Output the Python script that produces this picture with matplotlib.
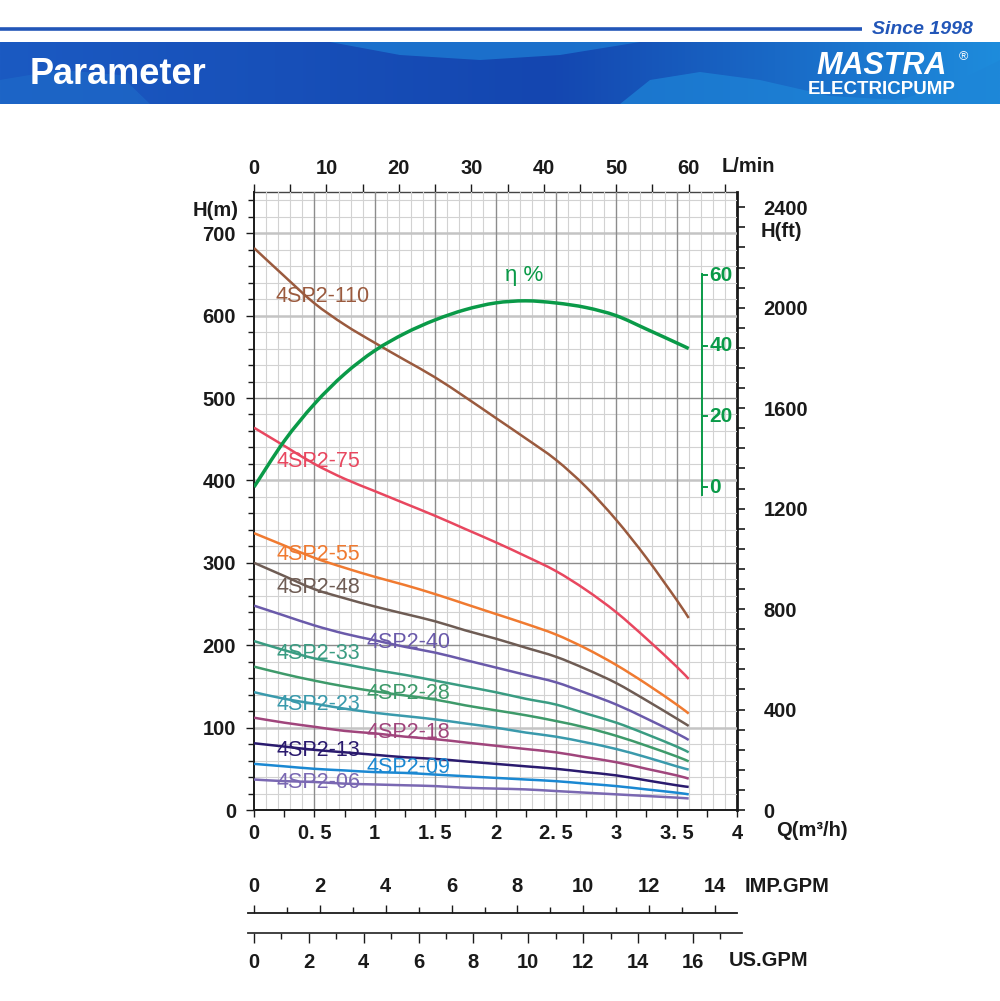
import numpy as np
import matplotlib
matplotlib.use('Agg')
import matplotlib.pyplot as plt
from matplotlib.ticker import MultipleLocator, FixedLocator
from matplotlib.patches import Polygon, PathPatch
from matplotlib.path import Path

plt.rcParams['font.family'] = ['Liberation Sans', 'DejaVu Sans']

# ---------------- data ----------------
flow_q = [0, 0.25, 0.5, 0.75, 1.0, 1.25, 1.5, 1.75, 2.0, 2.25, 2.5, 2.75, 3.0, 3.25, 3.5, 3.6]

head_110 = [682, 648, 615, 589, 567, 546, 525, 501, 476, 451, 425, 392, 352, 306, 255, 233]
head_75 = [464, 442, 420, 402, 387, 372, 357, 341, 325, 308, 290, 267, 240, 208, 174, 159]
head_55 = [336, 321, 306, 294, 283, 273, 262, 250, 238, 226, 213, 196, 176, 153, 128, 117]
head_48 = [300, 284, 268, 257, 247, 238, 229, 218, 208, 197, 186, 171, 154, 133, 111, 102]
head_40 = [248, 236, 224, 214, 206, 198, 191, 182, 173, 164, 155, 142, 128, 111, 93, 85]
head_33 = [205, 194, 184, 177, 170, 164, 157, 150, 143, 135, 128, 117, 106, 92, 77, 70]
head_28 = [174, 165, 157, 150, 144, 139, 134, 127, 121, 115, 108, 100, 90, 78, 65, 59]
head_23 = [143, 135, 129, 123, 118, 114, 110, 105, 100, 94, 89, 82, 74, 64, 53, 49]
head_18 = [112, 106, 101, 96, 93, 89, 86, 82, 78, 74, 70, 64, 58, 50, 42, 38]
head_13 = [81, 77, 73, 70, 67, 64, 62, 59, 56, 53, 50, 46, 42, 36, 30, 28]
head_09 = [56, 53, 50, 48, 46, 45, 43, 41, 39, 37, 35, 32, 29, 25, 21, 19]
head_06 = [37, 35, 34, 32, 31, 30, 29, 27, 26, 25, 23, 21, 19, 17, 15, 14]

models = ['4SP2-110', '4SP2-75', '4SP2-55', '4SP2-48', '4SP2-40', '4SP2-33',
          '4SP2-28', '4SP2-23', '4SP2-18', '4SP2-13', '4SP2-09', '4SP2-06']
heads = [head_110, head_75, head_55, head_48, head_40, head_33,
         head_28, head_23, head_18, head_13, head_09, head_06]

eff_q = [0, 0.25, 0.5, 0.75, 1.0, 1.25, 1.5, 1.75, 2.0, 2.25, 2.5, 2.75, 3.0, 3.25, 3.5, 3.6]
eff_pct = [0, 13, 23.5, 32, 38.6, 43.5, 47.3, 50.2, 52.1, 52.7, 52.1, 50.8, 48.5, 44.7, 40.8, 39.2]

q_ticks = [0, 0.5, 1, 1.5, 2, 2.5, 3, 3.5, 4]
q_tick_labels = ['0', '0. 5', '1', '1. 5', '2', '2. 5', '3', '3. 5', '4']
h_ticks = [0, 100, 200, 300, 400, 500, 600, 700]
lmin_ticks = [0, 10, 20, 30, 40, 50, 60]
ft_ticks = [0, 400, 800, 1200, 1600, 2000, 2400]
eff_ticks = [0, 20, 40, 60]
imp_ticks = [0, 2, 4, 6, 8, 10, 12, 14]
us_ticks = [0, 2, 4, 6, 8, 10, 12, 14, 16]

# ---------------- style ----------------
colors = ['#9A5A3E', '#E8475F', '#F07A30', '#6E5C54', '#6A5AAA', '#3A9C82',
          '#3E9A6A', '#3A9AAC', '#A0457C', '#2A1A6E', '#1A88D2', '#7A68B2']
label_pos = [(0.174, 623), (0.19, 423), (0.19, 310), (0.19, 270), (0.93, 203), (0.19, 190),
             (0.935, 141), (0.19, 128), (0.935, 94), (0.19, 72), (0.935, 51), (0.19, 33)]
GREEN = '#0A9A48'
DARK = '#1a1a1a'
TL = 14.5

W, H = 1000, 1001
fig = plt.figure(figsize=(10, 10.01), dpi=100)
fig.patch.set_facecolor('white')


def fx(x):
    return x / W


def fy(y):
    return 1 - y / H


def smooth_path(xs, ys):
    """Catmull-Rom through the given points, drawn as cubic Bezier segments."""
    xs = np.asarray(xs, float)
    ys = np.asarray(ys, float)
    n = len(xs)
    verts = [(xs[0], ys[0])]
    codes = [Path.MOVETO]
    for i in range(n - 1):
        p0 = np.array([xs[max(i - 1, 0)], ys[max(i - 1, 0)]])
        p1 = np.array([xs[i], ys[i]])
        p2 = np.array([xs[i + 1], ys[i + 1]])
        p3 = np.array([xs[min(i + 2, n - 1)], ys[min(i + 2, n - 1)]])
        c1 = p1 + (p2 - p0) / 6.0
        c2 = p2 - (p3 - p1) / 6.0
        verts += [tuple(c1), tuple(c2), tuple(p2)]
        codes += [Path.CURVE4] * 3
    return Path(verts, codes)


# ---------------- header ----------------
hdr = fig.add_axes([0, 0, 1, 1], zorder=-5)
hdr.set_xlim(0, W)
hdr.set_ylim(H, 0)
hdr.axis('off')
hdr.plot([0, 862], [28.5, 28.5], color='#2256B8', lw=2.6, solid_capstyle='butt')
hdr.text(973, 29, 'Since 1998', ha='right', va='center', color='#2256B8',
         fontsize=14, fontweight='bold', fontstyle='italic')
grad = np.linspace(0, 1, 400)
c0 = np.array([0x1B, 0x5A, 0xC2]) / 255
c1 = np.array([0x14, 0x46, 0xB0]) / 255
c2 = np.array([0x1E, 0x8C, 0xDC]) / 255
cols = []
for g in grad:
    if g < 0.55:
        t = g / 0.55
        cols.append(c0 * (1 - t) + c1 * t)
    else:
        t = (g - 0.55) / 0.45
        cols.append(c1 * (1 - t) + c2 * t)
img = np.array(cols)[None, :, :]
hdr.imshow(img, extent=(0, W, 104, 42), aspect='auto', zorder=0)
hdr.add_patch(Polygon([[190, 42], [330, 42], [400, 55], [480, 60], [560, 55], [640, 42], [190, 42]],
                      closed=True, color='#1E7DD4', alpha=0.75, zorder=1, lw=0))
hdr.add_patch(Polygon([[0, 80], [60, 70], [120, 75], [150, 104], [0, 104]],
                      closed=True, color='#1F6DCA', alpha=0.6, zorder=1, lw=0))
hdr.add_patch(Polygon([[620, 104], [650, 80], [700, 72], [760, 80], [830, 96], [900, 100], [960, 80],
                       [1000, 60], [1000, 104]], closed=True, color='#1E86D8', alpha=0.7, zorder=1, lw=0))
hdr.set_ylim(H, 0)
hdr.text(30, 74, 'Parameter', ha='left', va='center', color='white', fontsize=26,
         fontweight='bold', zorder=3)
hdr.text(882, 66, 'MASTRA', ha='center', va='center', color='white', fontsize=22,
         fontweight='bold', fontstyle='italic', zorder=3)
hdr.text(963, 57, '®', ha='center', va='center', color='white', fontsize=9, zorder=3)
hdr.text(882, 90, 'ELECTRICPUMP', ha='center', va='center', color='white', fontsize=13.5,
         fontweight='bold', zorder=3)

# ---------------- main axes ----------------
ax = fig.add_axes([fx(254), fy(810), (737 - 254) / W, (810 - 192) / H])
ax.set_xlim(0, 4)
ax.set_ylim(0, 750)
ax.set_facecolor('white')

for i in range(1, 40):
    q = i / 10
    if i % 5 == 0:
        ax.axvline(q, color='#8c8c8c', lw=1.0, zorder=0.5)
    else:
        ax.axvline(q, color='#d2d2d2', lw=0.8, zorder=0.4)
for i in range(1, 38):
    h = i * 20
    if h % 100 == 0:
        if h in (200, 300, 500):
            ax.axhline(h, color='#8c8c8c', lw=1.0, zorder=0.5)
        else:
            ax.axhline(h, color='#c4c4c4', lw=1.8, zorder=0.45)
    else:
        ax.axhline(h, color='#d2d2d2', lw=0.8, zorder=0.4)

for name, hd, col, (lx, ly) in zip(models, heads, colors, label_pos):
    ax.add_patch(PathPatch(smooth_path(flow_q, hd), facecolor='none', edgecolor=col,
                           lw=1.8, zorder=3, capstyle='butt'))
    ax.text(lx, ly, name, color=col, fontsize=15.5, ha='left', va='center', zorder=4)

ax.set_xticks(q_ticks)
ax.set_xticklabels(q_tick_labels)
ax.xaxis.set_minor_locator(MultipleLocator(0.25))
ax.set_yticks(h_ticks)
ax.yaxis.set_minor_locator(MultipleLocator(20))
ax.tick_params(axis='both', which='both', direction='out', color=DARK, width=1.0)
ax.tick_params(axis='x', which='major', length=5, pad=5, labelsize=TL)
ax.tick_params(axis='x', which='minor', length=5)
ax.tick_params(axis='y', which='major', length=6, pad=7, labelsize=TL)
ax.tick_params(axis='y', which='minor', length=4)
for lab in ax.get_xticklabels() + ax.get_yticklabels():
    lab.set_fontweight('bold')
    lab.set_color(DARK)
ax.spines['left'].set_linewidth(1.4)
ax.spines['bottom'].set_linewidth(1.4)
ax.spines['top'].set_visible(False)
ax.spines['right'].set_visible(False)
for s in ('left', 'bottom'):
    ax.spines[s].set_color(DARK)

# top L/min axis
top = ax.secondary_xaxis('top', functions=(lambda q: q * 1000 / 60, lambda l: l * 60 / 1000))
top.set_xticks(lmin_ticks)
top.xaxis.set_minor_locator(MultipleLocator(5))
top.tick_params(which='both', direction='out', color=DARK, width=1.0)
top.tick_params(which='major', length=6, pad=4, labelsize=TL)
top.tick_params(which='minor', length=6)
top.spines['top'].set_linewidth(1.0)
top.spines['top'].set_color('#444444')
for lab in top.get_xticklabels():
    lab.set_fontweight('bold')
    lab.set_color(DARK)

# right H(ft) axis
right = ax.secondary_yaxis('right', functions=(lambda m: m * 3.28084, lambda f: f / 3.28084))
right.set_yticks(ft_ticks)
right.yaxis.set_minor_locator(MultipleLocator(80))
right.tick_params(which='both', direction='out', color=DARK, width=1.2, length=6)
right.tick_params(which='major', pad=13, labelsize=TL)
right.spines['right'].set_linewidth(2.0)
right.spines['right'].set_color(DARK)
for lab in right.get_yticklabels():
    lab.set_fontweight('bold')
    lab.set_color(DARK)

# efficiency
ax2 = ax.twinx()
ax2.set_ylim(-91.4, 83.5)
ax2.set_axis_off()
ax2.add_patch(PathPatch(smooth_path(eff_q, eff_pct), facecolor='none', edgecolor=GREEN,
                        lw=2.5, zorder=5, capstyle='butt'))
axis_q = 3.71
ax2.plot([axis_q, axis_q], [-2.2, 60.4], color=GREEN, lw=1.4)
for v in eff_ticks:
    ax2.plot([axis_q, axis_q + 0.04], [v, v], color=GREEN, lw=1.4)
    ax2.text(axis_q + 0.062, v, str(v), color=GREEN, fontsize=15, fontweight='bold',
             ha='left', va='center')
ax2.text(2.08, 60, 'η %', color=GREEN, fontsize=16, ha='left', va='center')

# axis captions
fig.text(fx(239), fy(211), 'H(m)', ha='right', va='center', fontsize=TL, fontweight='bold', color=DARK)
fig.text(fx(761), fy(231), 'H(ft)', ha='left', va='center', fontsize=TL, fontweight='bold', color=DARK)
fig.text(fx(722), fy(167), 'L/min', ha='left', va='center', fontsize=TL, fontweight='bold', color=DARK)
fig.text(fx(776), fy(831), 'Q(m³/h)', ha='left', va='center', fontsize=TL, fontweight='bold', color=DARK)
fig.text(fx(745), fy(886), 'IMP.GPM', ha='left', va='center', fontsize=TL, fontweight='bold', color=DARK)
fig.text(fx(729), fy(961), 'US.GPM', ha='left', va='center', fontsize=TL, fontweight='bold', color=DARK)

# ---------------- GPM scales ----------------
px_per_q = (737 - 254) / 4.0
q_left = (248 - 254) / px_per_q
imp_factor = 3.6662
us_factor = 4.4029

imp = fig.add_axes([fx(248), fy(913), (737 - 248) / W, 0.00001])
imp.set_xlim(q_left * imp_factor, 4 * imp_factor)
imp.set_ylim(0, 1)
imp.patch.set_visible(False)
for s in ('left', 'right', 'bottom'):
    imp.spines[s].set_visible(False)
imp.spines['top'].set_linewidth(1.3)
imp.spines['top'].set_color(DARK)
imp.set_yticks([])
imp.xaxis.set_ticks_position('top')
imp.xaxis.set_label_position('top')
imp.set_xticks(imp_ticks)
imp.xaxis.set_minor_locator(FixedLocator(list(range(1, 15, 2))))
imp.tick_params(axis='x', which='both', direction='out', color=DARK, width=1.0)
imp.tick_params(axis='x', which='major', length=6, pad=6, labelsize=TL)
imp.tick_params(axis='x', which='minor', length=4)
for lab in imp.get_xticklabels():
    lab.set_fontweight('bold')
    lab.set_color(DARK)

us = fig.add_axes([fx(248), fy(932.5), (742 - 248) / W, 0.00001])
us.set_xlim(q_left * us_factor, (742 - 254) / px_per_q * us_factor)
us.set_ylim(0, 1)
us.patch.set_visible(False)
for s in ('left', 'right', 'top'):
    us.spines[s].set_visible(False)
us.spines['bottom'].set_linewidth(1.3)
us.spines['bottom'].set_color('#333333')
us.set_yticks([])
us.set_xticks(us_ticks)
us.xaxis.set_minor_locator(FixedLocator(list(range(1, 18, 2))))
us.tick_params(axis='x', which='both', direction='out', color=DARK, width=1.0)
us.tick_params(axis='x', which='major', length=7, pad=8, labelsize=TL)
us.tick_params(axis='x', which='minor', length=4)
for lab in us.get_xticklabels():
    lab.set_fontweight('bold')
    lab.set_color(DARK)

fig.savefig('out.png', dpi=100, facecolor='white')
